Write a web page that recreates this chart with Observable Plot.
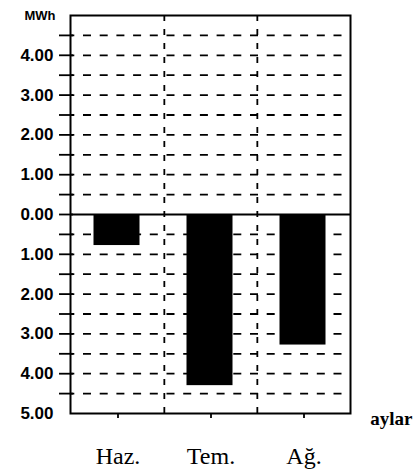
<!DOCTYPE html>
<html>
<head>
<meta charset="utf-8">
<script src="https://cdn.jsdelivr.net/npm/d3@7"></script>
<script src="https://cdn.jsdelivr.net/npm/@observablehq/plot@0.6"></script>
<style>
  html, body { margin: 0; padding: 0; background: #fff; }
  #chart svg { display: block; }
</style>
</head>
<body>
<div id="chart"></div>
<script>
// Data
const months = ["Haz.", "Tem.", "Ağ."];
const values = [-0.78, -4.30, -3.28];          // MWh (drawn below zero)
const yLabelTicks = [4, 3, 2, 1, 0, -1, -2, -3, -4, -5];
const yHalfTicks = [4.5, 4, 3.5, 3, 2.5, 2, 1.5, 1, 0.5, 0, -0.5, -1, -1.5, -2, -2.5, -3, -3.5, -4, -4.5];
const gridValues = [4.5, 4, 3.5, 3, 2.5, 2, 1.5, 1, 0.5, -0.5, -1, -1.5, -2, -2.5, -3, -3.5, -4, -4.5];
const separators = ["Tem.", "Ağ."];
const unitLabel = "MWh";
const xTitle = "aylar";

const data = months.map((m, i) => ({month: m, value: values[i]}));

const W = 413, H = 475, mL = 70, mR = 63, mT = 15, mB = 62;
const bw = (W - mL - mR) / months.length;

const chart = Plot.plot({
  width: W,
  height: H,
  marginLeft: mL,
  marginRight: mR,
  marginTop: mT,
  marginBottom: mB,
  style: {background: "#fff", color: "#000", fontFamily: "'Liberation Sans', Arial, sans-serif"},
  x: {type: "band", domain: months, padding: 0, label: null},
  y: {domain: [-5, 5], label: null},
  marks: [
    Plot.ruleY(gridValues, {stroke: "#000", strokeWidth: 1.8, strokeDasharray: "8,8.7", strokeDashoffset: 3.7}),
    Plot.ruleX(separators, {dx: -bw / 2, stroke: "#000", strokeWidth: 1.8, strokeDasharray: "6,8"}),
    Plot.barY(data, {x: "month", y: "value", fill: "#000", insetLeft: 22.5, insetRight: 24.5}),
    Plot.ruleY([0], {stroke: "#000", strokeWidth: 2}),
    Plot.frame({stroke: "#000", strokeWidth: 2}),
    // y tick marks every 0.5
    Plot.axisY({ticks: yHalfTicks, tickSize: 14, dx: 3, tickFormat: () => "", strokeWidth: 1.8, label: null}),
    // y tick labels (absolute values)
    Plot.axisY({ticks: yLabelTicks, tickSize: 0, tickPadding: 17, tickFormat: d => Math.abs(d).toFixed(2),
      fontSize: 17, fontWeight: "bold", fontFamily: "'Liberation Sans', Arial, sans-serif", label: null}),
    // unit label at top
    Plot.axisY({ticks: [5], tickSize: 0, tickPadding: 15, tickFormat: () => unitLabel,
      fontSize: 13, fontWeight: "bold", fontFamily: "'Liberation Sans', Arial, sans-serif", label: null}),
    // x axis
    Plot.axisX({tickSize: 5, tickPadding: 28, strokeWidth: 1.8, fontSize: 24,
      fontFamily: "'Liberation Serif', 'Times New Roman', serif", label: null}),
    Plot.text([xTitle], {frameAnchor: "bottom-right", dx: 62, dy: 11, textAnchor: "end", lineAnchor: "bottom",
      fontSize: 19, fontWeight: "bold", fontFamily: "'Liberation Serif', 'Times New Roman', serif", fill: "#000"})
  ]
});
document.getElementById("chart").appendChild(chart);
</script>
</body>
</html>
